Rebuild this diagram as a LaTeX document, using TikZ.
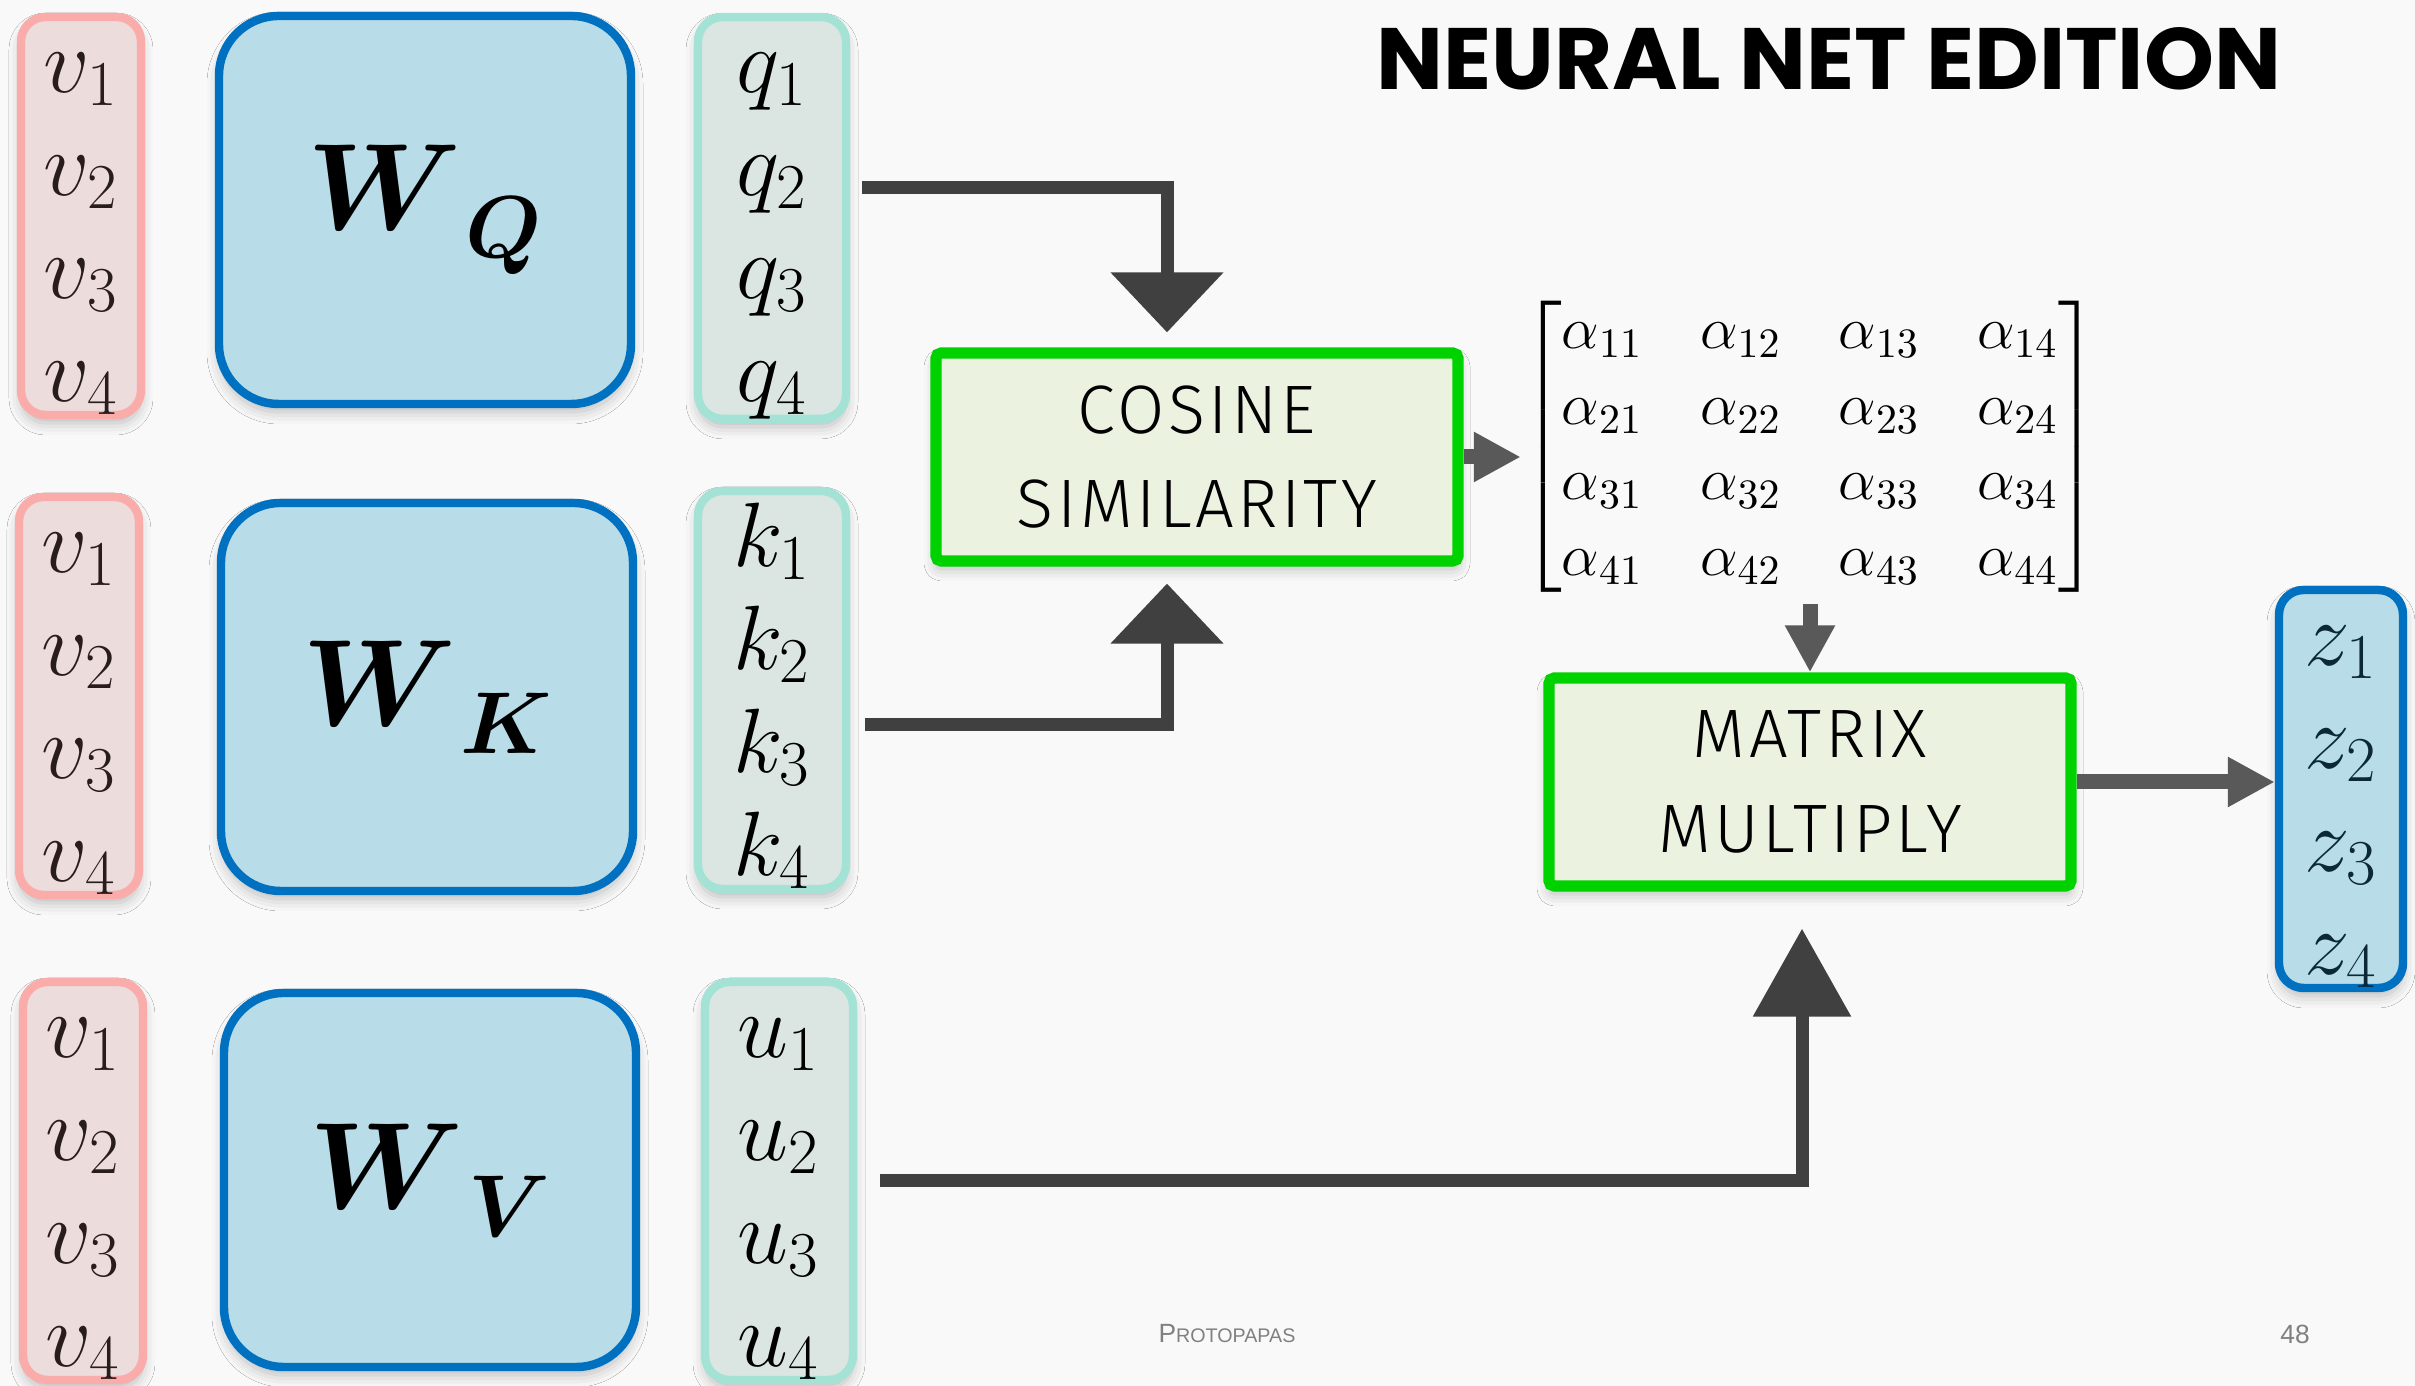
\RequirePackage{fix-cm}
\documentclass[tikz,border=0pt]{standalone}
\usepackage{amsmath}
\usepackage[no-math]{fontspec}
\usepackage{graphicx}
\newfontfamily\opfont[LetterSpace=5]{Fira Sans Light}
\newfontfamily\headfont{Poppins}
\newfontfamily\footfont{Liberation Sans}
\usetikzlibrary{arrows.meta,positioning,calc,shadows.blur}
\definecolor{pagebg}{RGB}{249,249,249}
\definecolor{inborder}{RGB}{250,172,170}
\definecolor{infill}{RGB}{236,220,220}
\definecolor{intext}{RGB}{40,28,28}
\definecolor{wborder}{RGB}{0,112,192}
\definecolor{wfill}{RGB}{184,220,232}
\definecolor{outborder}{RGB}{164,226,214}
\definecolor{outfill}{RGB}{219,230,227}
\definecolor{ztext}{RGB}{12,40,56}
\definecolor{opborder}{RGB}{0,210,0}
\definecolor{opfill}{RGB}{235,242,223}
\definecolor{darkflow}{RGB}{64,64,64}
\definecolor{lightflow}{RGB}{89,89,89}
\definecolor{footgray}{RGB}{128,128,128}
% four stacked components of a vector (struts keep the rows in place)
\newcommand\entries[1]{\rule{0pt}{0.75cm}$#1_1$\\$#1_2$\\$#1_3$\\$#1_4$\rule[-0.1cm]{0pt}{0pt}}
% weight matrix label with a lowered subscript
\newcommand\wlabel[1]{$\boldsymbol{W}$\hspace{0.04cm}\raisebox{-0.28cm}{\fontsize{25}{28}\selectfont$\boldsymbol{#1}$}}
\tikzset{
  soft/.style={blur shadow={shadow xshift=0pt, shadow yshift=-0.8mm, shadow blur radius=1.2mm, shadow opacity=25}},
  vec/.style={line width=2.4pt, rounded corners=7pt, soft, align=center,
    minimum width=1.2cm, minimum height=3.98cm, inner sep=0pt,
    font=\fontsize{26}{29.3}\selectfont},
  invec/.style={vec, draw=inborder, fill=infill, text=intext},
  outvec/.style={vec, draw=outborder, fill=outfill, minimum width=1.48cm},
  zvec/.style={vec, draw=wborder, fill=wfill, text=ztext, minimum width=1.24cm},
  weight/.style={draw=wborder, line width=2.4pt, fill=wfill, rounded corners=17pt, soft,
    minimum width=4.12cm, minimum height=3.88cm, font=\fontsize{35}{40}\selectfont},
  op/.style={draw=opborder, line width=3.2pt, fill=opfill, rounded corners=1.5pt, soft,
    align=center, minimum width=5.22cm, minimum height=2.08cm,
    font=\opfont\fontsize{19.5}{27}\selectfont},
  bigflow/.style={draw=darkflow, line width=0.13cm, -{Triangle[length=6mm,width=11mm]}},
  smallflow/.style={draw=lightflow, line width=0.15cm, -{Triangle[length=4.7mm,width=4.7mm]}},
  footer/.style={text=footgray, font=\footfont\fontsize{7.5}{9}\selectfont, inner sep=0pt}
}

\begin{document}
\begin{tikzpicture}
  \fill[pagebg] (0,0) rectangle (24.15,13.86);
  \useasboundingbox (0,0) rectangle (24.15,13.86);

  % query, key and value projections
  \node[invec] (vq) at (0.81,11.70) {\entries{v}};
  \node[weight] (wq) at (4.25,11.76) {\wlabel{Q}};
  \node[outvec] (q) at (7.72,11.68) {\entries{q}};

  \node[invec] (vk) at (0.79,6.90) {\entries{v}};
  \node[weight] (wk) at (4.27,6.89) {\wlabel{K}};
  \node[outvec] (k) at (7.72,6.96) {\entries{k}};

  \node[invec] (vv) at (0.83,2.05) {\entries{v}};
  \node[weight, minimum height=3.74cm] (wv) at (4.30,2.06) {\wlabel{V}};
  \node[outvec] (u) at (7.79,2.05) {\entries{u}};

  % attention part
  \node[op] (cos) at (11.97,9.29) {COSINE\\SIMILARITY};
  \node[inner sep=0pt, font=\fontsize{17}{21.5}\selectfont] (alpha) at (18.10,9.39)
    {$\setlength{\arraycolsep}{8.2pt}\begin{bmatrix}
      \alpha_{11} & \alpha_{12} & \alpha_{13} & \alpha_{14}\\
      \alpha_{21} & \alpha_{22} & \alpha_{23} & \alpha_{24}\\
      \alpha_{31} & \alpha_{32} & \alpha_{33} & \alpha_{34}\\
      \alpha_{41} & \alpha_{42} & \alpha_{43} & \alpha_{44}
    \end{bmatrix}$};
  \node[op] (mm) at (18.10,6.04) {MATRIX\\MULTIPLY};
  \node[zvec] (z) at (23.41,5.97) {\entries{z}};

  \draw[bigflow, shorten <=0.12cm, shorten >=0.15cm] ([yshift=0.3cm]q.east) -| ([xshift=-0.3cm]cos.north);
  \draw[bigflow, shorten <=0.15cm, shorten >=0.17cm] ([yshift=-0.35cm]k.east) -| ([xshift=-0.3cm]cos.south);
  \draw[bigflow, -{Triangle[length=8.8mm,width=9.5mm]}, shorten <=0.23cm, shorten >=0.37cm]
    (u.east) -| ([xshift=-0.08cm]mm.south);
  \draw[smallflow] (cos.east) -- (cos.east -| alpha.west);
  \draw[smallflow, shorten <=0.05cm] (alpha.south) -- (mm.north);
  \draw[smallflow] (mm.east) -- (mm.east -| z.west);

  % heading and footer
  \node (title) at (18.29,13.275) {\resizebox{9.04cm}{0.62cm}{\headfont\bfseries NEURAL NET EDITION}};
  \node[footer] (author) at (12.27,0.52) {P{\fontsize{5.6}{7}\selectfont ROTOPAPAS}};
  \node[footer] (pageno) at (22.95,0.52) {48};
\end{tikzpicture}
\end{document}
